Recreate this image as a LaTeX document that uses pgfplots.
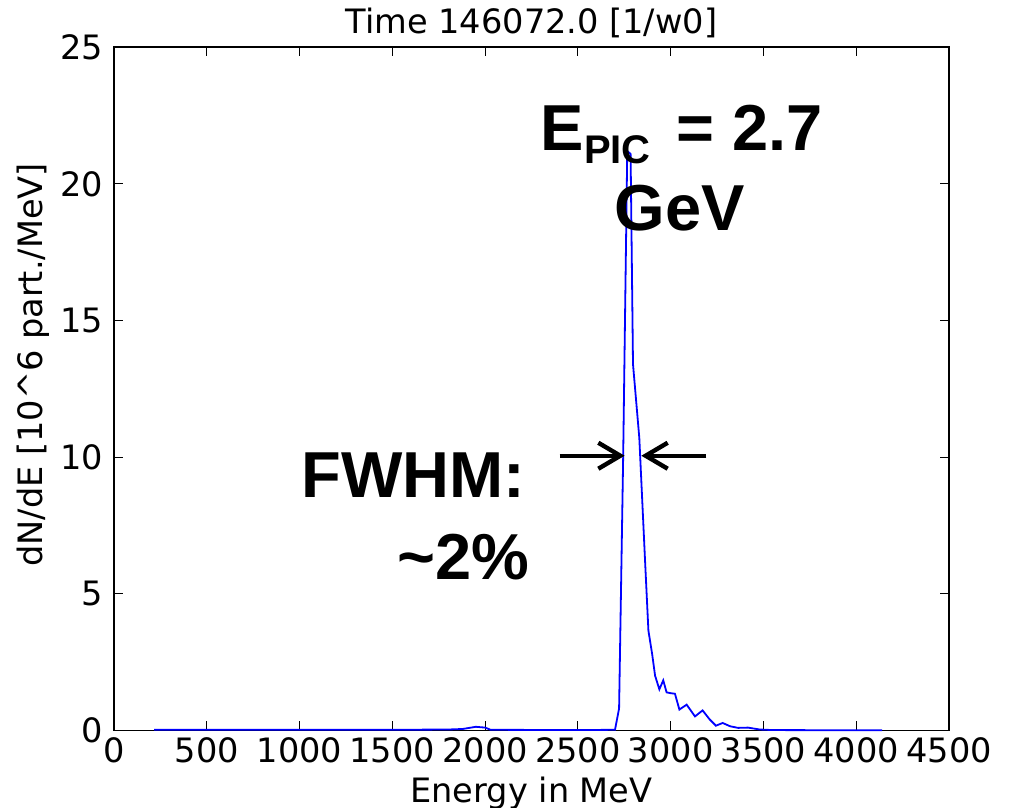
\documentclass[border=0pt]{standalone}
\usepackage{fontspec}
\setmainfont{DejaVu Sans}
\newfontfamily\annfont{Liberation Sans}
\usepackage{pgfplots}
\pgfplotsset{compat=1.18}
\usetikzlibrary{arrows.meta}

\begin{document}
\begin{tikzpicture}[font=\fontsize{16.8}{20}\selectfont]
\begin{axis}[
  scale only axis,
  width=417.75pt, height=341.7pt,
  xmin=0, xmax=4500, ymin=0, ymax=25,
  xtick={0,500,...,4500}, ytick={0,5,...,25},
  tick pos=both,
  tick align=inside,
  major tick length=4.5pt,
  tick style={black, line width=0.6pt},
  axis line style={black, line width=0.8pt},
  /pgf/number format/assume math mode=true,
  /pgf/number format/1000 sep={},
  xticklabel style={anchor=base, inner sep=0pt, yshift=-16pt},
  yticklabel style={anchor=east, inner sep=0pt, xshift=-5.3pt},
  title={Time 146072.0 [1/w0]},
  title style={at={(axis description cs:0.5,1)}, anchor=base, inner sep=0pt, yshift=1pt},
  xlabel={Energy in MeV},
  xlabel style={at={(axis description cs:0.5,0)}, anchor=base, inner sep=0pt, yshift=-36pt},
  ylabel={dN/dE [10\textasciicircum 6 part./MeV]},
  ylabel style={at={(axis description cs:0,0.535)}, anchor=base, inner sep=0pt, yshift=35.5pt},
  clip=false,
]
\addplot[blue, line width=0.9pt] coordinates {
  (216,0.02) (500,0.02) (1000,0.02) (1500,0.02) (1800,0.03) (1880,0.05)
  (1950,0.13) (2000,0.10) (2030,0.02) (2500,0.01) (2700,0.02)
  (2722,0.8) (2744,10.0) (2766,21.2) (2784,21.1) (2797,13.4)
  (2831,10.7) (2862,6.2) (2880,3.65) (2900,2.8) (2916,2.0)
  (2939,1.5) (2960,1.83) (2978,1.39) (3000,1.36) (3023,1.34)
  (3047,0.76) (3086,0.94) (3131,0.51) (3172,0.73) (3210,0.4)
  (3244,0.17) (3280,0.27) (3320,0.15) (3363,0.09) (3417,0.10)
  (3480,0.03) (3550,0.01) (4140,0.0)
};
\node[font=\annfont\bfseries\fontsize{32.5}{39}\selectfont, anchor=base]
  at (axis cs:3060,21.24) {E\raisebox{-7pt}{\fontsize{20}{20}\selectfont PIC}\hspace{13pt}= 2.7};
\node[font=\annfont\bfseries\fontsize{32.5}{39}\selectfont, anchor=base]
  at (axis cs:3048,18.31) {GeV};
\node[font=\annfont\bfseries\fontsize{32.5}{39}\selectfont, anchor=base east]
  at (axis cs:2256,8.51) {FWHM:};
\node[font=\annfont\bfseries\fontsize{32.5}{39}\selectfont, anchor=base east]
  at (axis cs:2278,5.51) {\textasciitilde 2\%};
\draw[line width=2.2pt, -{Straight Barb[length=11pt,width=13pt]}]
  (axis cs:2402,10.05) -- (axis cs:2752,10.05);
\draw[line width=2.2pt, -{Straight Barb[length=11pt,width=13pt]}]
  (axis cs:3192,10.05) -- (axis cs:2842,10.05);
\end{axis}
\pgfresetboundingbox
\useasboundingbox (-57pt,-38.65pt) rectangle (447.75pt,365.35pt);
\end{tikzpicture}
\end{document}
